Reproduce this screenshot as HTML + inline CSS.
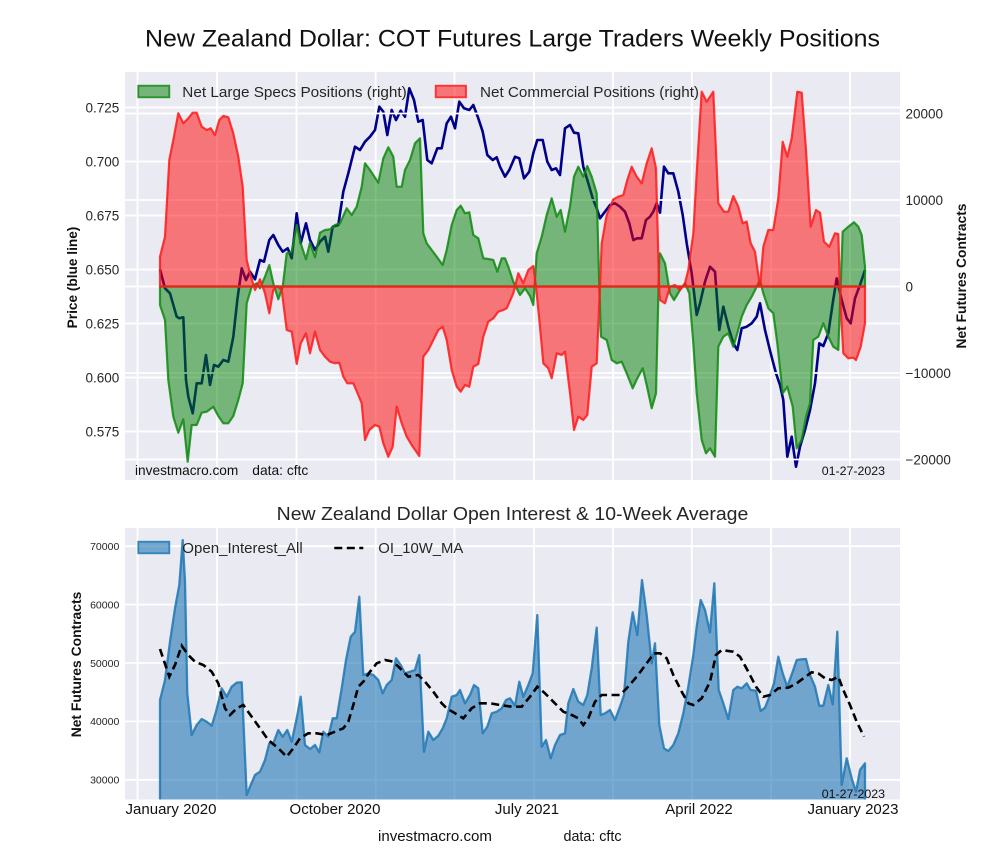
<!DOCTYPE html>
<html><head><meta charset="utf-8"><style>
html,body{margin:0;padding:0;background:#fff;}
svg{display:block;}
text{font-family:"Liberation Sans",Arial,sans-serif;}
</style></head><body>
<svg width="1000" height="860" viewBox="0 0 1000 860" xmlns="http://www.w3.org/2000/svg">
<defs>
<clipPath id="c1"><rect x="125" y="72" width="775" height="408"/></clipPath>
<clipPath id="c2"><rect x="125" y="528" width="775" height="271.5"/></clipPath>
</defs>
<rect width="1000" height="860" fill="#fff"/>

<!-- TITLE -->
<text x="512.5" y="46.5" font-size="24" fill="#111" text-anchor="middle" textLength="735" lengthAdjust="spacingAndGlyphs">New Zealand Dollar: COT Futures Large Traders Weekly Positions</text>

<!-- TOP AXES -->
<rect x="125" y="72" width="775" height="408" fill="#EAEAF2"/>
<g stroke="#fff" stroke-width="1.8">
<line x1="137.5" y1="72" x2="137.5" y2="480"/><line x1="217" y1="72" x2="217" y2="480"/><line x1="296.5" y1="72" x2="296.5" y2="480"/><line x1="375.7" y1="72" x2="375.7" y2="480"/><line x1="454.5" y1="72" x2="454.5" y2="480"/><line x1="534" y1="72" x2="534" y2="480"/><line x1="613" y1="72" x2="613" y2="480"/><line x1="691.8" y1="72" x2="691.8" y2="480"/><line x1="771" y1="72" x2="771" y2="480"/><line x1="850" y1="72" x2="850" y2="480"/>
<line x1="125" y1="107.5" x2="900" y2="107.5"/><line x1="125" y1="161.5" x2="900" y2="161.5"/><line x1="125" y1="215.5" x2="900" y2="215.5"/><line x1="125" y1="269.5" x2="900" y2="269.5"/><line x1="125" y1="323.5" x2="900" y2="323.5"/><line x1="125" y1="377.5" x2="900" y2="377.5"/><line x1="125" y1="431.5" x2="900" y2="431.5"/>
</g>
<g clip-path="url(#c1)">
<polyline fill="none" stroke="#00008B" stroke-width="2.6" stroke-linejoin="round" points="160,269.3 165,288.3 170,293.3 176.7,316.7 179.3,318.3 183.3,317.3 186,380 188.3,396.7 192.7,413.3 196.7,383.3 201.7,383.3 206,355 210,385 214,365 218.3,366.7 223.3,360 228.3,361.7 233.3,336.7 237.3,300 241.7,268.3 246,280 250,271.7 255,279.3 260,260 264,261.7 269.3,240 273.3,235 278.3,245 282.7,251.7 287.7,248.3 291.7,258.3 296.7,213.3 300.7,243.3 306,223.3 310,240 315,250 320,241.7 325,236.7 328.3,251.7 332.7,226.7 338.3,225 343.3,191.7 348.3,173.3 355,146.7 360,150 365,141.7 370,136.7 375,130 379.3,106.7 383.3,111.7 387.3,135 391.7,110 396,120 400.7,110.7 405,116.7 409.3,88.3 414,100 418.3,121.7 422.7,120 427.3,160 431.7,163.3 437.3,148.3 441.7,148.3 446.7,123.3 451,116.7 455,128.3 459.3,101.7 464,108.3 469.3,110 473.3,105 478.3,118.3 482.7,131.7 487.3,155 492.7,160 496.7,157.3 500,166.7 505,176.7 509.3,170 515,156.7 519.3,158.3 524,178.3 529.3,171.7 533.3,153.3 537.3,140 542.7,140 547.3,161.7 551.7,170 556,168.3 560,175 565,128.3 570,125 574,132.7 578.3,133.3 583.3,166.7 588.3,183.3 592.7,198.3 596.7,208.3 600,218.3 605,211.7 610,205 615,203.3 620,206.7 625,211.7 629.3,223.3 633.3,240 637.3,238.3 641.7,238.3 646,220 650,216.7 653.3,211.7 656.7,203.3 660,212.7 664,166.7 668.3,173.3 673.3,173.3 678.3,191.7 682.7,215 686.7,243.3 691.7,273.3 696.7,315 700,303.3 705,281.7 710,266.7 715,271.7 719.3,330 723.3,306.7 728.3,326.7 733.3,343.3 737.3,350 741.7,328.3 746.7,326.7 751.7,323.3 756.7,316.7 760,303.3 765,330 770.7,353.3 776,373.3 780,385 783.3,400 787.3,456.7 791.7,436.7 796,466.7 800,446.7 805,430 810,410 815,383.3 819.3,343.3 823.3,346 828.3,333.3 832.7,303.3 836.7,278.3 841.7,300 846.7,318.3 850.7,323.3 855,298.3 860,285 865,270"/>
</g>
<!-- right axis gridlines over blue line -->
<g stroke="#fff" stroke-width="1.8">
<line x1="125" y1="113.5" x2="900" y2="113.5"/><line x1="125" y1="200" x2="900" y2="200"/><line x1="125" y1="286.5" x2="900" y2="286.5"/><line x1="125" y1="373" x2="900" y2="373"/><line x1="125" y1="459.5" x2="900" y2="459.5"/>
</g>
<g clip-path="url(#c1)" stroke-linejoin="round" stroke-width="2.2">
<polygon fill="#008000" fill-opacity="0.5" stroke="#118811" stroke-opacity="0.85" points="160,305 165,320 168.3,380 173.3,416.7 178.3,432.7 183.3,419.3 187.7,461.7 191.7,425 196.7,425 201.7,412.7 206.7,411.7 213.3,406.7 218.3,416 223.3,423.3 228.3,423.3 233.3,416 238.3,400 242.7,383.3 246.7,303.3 251.7,286.7 256.7,283.3 260,288.3 265,276.7 269.3,265 273.3,283.3 278.3,299.3 282.7,286.7 286.7,253.3 291.7,251.7 296.7,225 300.7,243.3 306,259.3 310,242.7 315,257.3 320,232.7 325,230 330,229.3 335,225 340,223.3 346.7,208.3 351.7,215 356.7,206.7 361.7,186.7 365,163.3 370,170 378.3,182.7 383.3,158.3 388.3,147.3 393.3,156.7 396.7,186.7 401.7,186.7 405,170 410,160 415,143.3 420,138.3 423.3,233.3 426.7,243.3 431.7,250 436.7,256.7 442.7,265 446.7,250 451.7,225 456.7,210 460.7,205.7 465,213.3 469.3,212.3 473.3,235 478.3,238.3 483.3,258.3 488.3,259 493.3,260 497.3,271.7 501.7,258.3 505,258.3 508.3,266.7 513.3,281.7 520,295 525,288.3 530,296 533.3,305 536.7,253.3 541.7,236.7 546.7,215 551.7,198.3 556.7,216.7 560.7,210 565,231.7 570,206.7 574,176.7 578.3,166.7 583.3,176.7 587.3,166 591.7,176.7 596.7,193.3 599.3,286.7 601,336.7 606.7,340 611.7,360 616.7,363.3 621.7,361.7 626.7,373.3 632.7,388.3 637.3,378.3 642.7,368.3 646.7,385 651.7,408.3 656,393.3 659.3,256.7 660,253.3 665,263.3 670,293.3 674,300 680,290 685,283.3 689.3,293.3 693.3,343.3 696.7,393.3 701.7,440 706,453.3 710,448.3 715,456.7 718.3,346.7 723.3,336.7 728.3,333.3 733.3,346.7 737.3,333.3 741.7,316.7 746.7,305 751.7,296.7 756.7,286.7 760,280 763.3,293.3 768.3,308.3 773.3,313.3 777.3,343.3 782.7,393.3 787.3,386.7 792.7,406.7 796.7,448.3 801.7,440 806,416.7 810,403.3 813.3,340 818.3,336.7 823.3,323.3 828.3,336.7 833.3,346.7 838.3,350 840.7,286.7 842.7,231.7 848.3,226.7 854,222.3 858.3,226.7 861.7,235 865,266.7 865,286.5 160,286.5"/>
<polygon fill="#FF0000" fill-opacity="0.5" stroke="#FF1A1A" stroke-opacity="0.85" points="160,256.7 165,236.7 169.3,160 173.3,140 178.3,113.3 183.3,123.3 188.3,118.3 192.7,112.7 196.7,112.7 201.7,126.7 206.7,130 210.7,128.3 215,135 219.3,120 223.3,116 228.3,117.3 233.3,133.3 238.3,156.7 242.7,186.7 246.7,260 250,273.3 255,290 260,279.3 265,293.3 269.3,313.3 273.3,290 277.3,286 281.7,290 286.7,330 291.7,331.7 296.7,364 300.7,343.3 306,333.3 310,353.3 315,331.7 320,350 325,356.7 330,361.7 335,363.3 339.3,362.7 343.3,376.7 347.3,383.3 353.3,383.3 358.3,395 361.7,403.3 365,440 369.3,430 375,425 379.3,426.7 383.3,443.3 388.3,456.7 392.7,446.7 396.7,406.7 401.7,423.3 406.7,436.7 411.7,445 419.3,456 423.3,356.7 428.3,350 433.3,340 438.3,330 442.7,326.7 446.7,340 451.7,370 456.7,386.7 460.7,391.7 465,385 469.3,386.7 473.3,366.7 478.3,364 483.3,336.7 488.3,321.7 493.3,318.3 498.3,311.7 503.3,310 506.7,308.3 513.3,293.3 518.3,273.3 523.3,283.3 528.3,270 533.3,266 536,286.7 540,326.7 543.3,363.3 548.3,368.3 551.7,378.3 556.7,353.3 561.7,355 565,351.7 570,393.3 574,430 578.3,416.7 583.3,420 587.3,415 591.7,366.7 596.7,363.3 600,286.7 601.7,243.3 606.7,215 613.3,199.3 618.3,196.7 623.3,195 627.3,180 631.7,166.7 636.7,176.7 641.7,183.3 646.7,163.3 651.7,148.3 656,168.3 659.3,293.3 660,300 665,303.3 670,286.7 675,285 680,290 685,283.3 688.3,270 693.3,233.3 696.7,173.3 701.7,91.7 706.7,101.7 713.3,91.7 718.3,203.3 724,211.7 728.3,211.7 733.3,196 738.3,206.7 742.7,223.3 746.7,221.7 750.7,243.3 755,251.7 760,286.7 763.3,246.7 768.3,230 773.3,230 778.3,198.3 782.7,141.7 787.3,156.7 791.7,138.3 797.3,91.7 801.7,92.7 806,150 810.7,226.7 816,210 820,212.7 824,241.7 829.3,246.7 835,233.3 838.3,234 840,293.3 843.3,353.3 848.3,358.3 853.3,357.7 856,360 860.7,346.7 865,323.3 865,286.5 160,286.5"/>
</g>

<!-- top legend -->
<rect x="138.3" y="85.7" width="31" height="11.6" fill="#008000" fill-opacity="0.5" stroke="#118811" stroke-opacity="0.85" stroke-width="1.8"/>
<text x="182.3" y="97" font-size="15" fill="#262626" textLength="224.4" lengthAdjust="spacingAndGlyphs">Net Large Specs Positions (right)</text>
<rect x="435.7" y="85.7" width="30.3" height="11.6" fill="#FF0000" fill-opacity="0.5" stroke="#FF1A1A" stroke-opacity="0.85" stroke-width="1.8"/>
<text x="480" y="97" font-size="15" fill="#262626" textLength="219" lengthAdjust="spacingAndGlyphs">Net Commercial Positions (right)</text>

<!-- top watermark -->
<text x="135" y="475" font-size="13.7" fill="#111" textLength="103.3" lengthAdjust="spacingAndGlyphs">investmacro.com</text>
<text x="252.3" y="475" font-size="13.7" fill="#111" textLength="56" lengthAdjust="spacingAndGlyphs">data: cftc</text>
<text x="821.7" y="475" font-size="12.4" fill="#111" textLength="63.3" lengthAdjust="spacingAndGlyphs">01-27-2023</text>

<!-- top tick labels -->
<g font-size="13.5" fill="#262626" text-anchor="end">
<text x="119.3" y="112.3">0.725</text><text x="119.3" y="166.3">0.700</text><text x="119.3" y="220.3">0.675</text><text x="119.3" y="274.3">0.650</text><text x="119.3" y="328.3">0.625</text><text x="119.3" y="382.3">0.600</text><text x="119.3" y="436.3">0.575</text>
</g>
<g font-size="13.5" fill="#262626">
<text x="905.5" y="118.3">20000</text><text x="905.5" y="204.8">10000</text><text x="905.5" y="291.3">0</text><text x="905.5" y="377.8">−10000</text><text x="905.5" y="464.3">−20000</text>
</g>
<text transform="translate(77,277.5) rotate(-90)" font-size="13.5" font-weight="bold" fill="#111" text-anchor="middle" textLength="101.7" lengthAdjust="spacingAndGlyphs">Price (blue line)</text>
<text transform="translate(966,276) rotate(-90)" font-size="13.7" font-weight="bold" fill="#111" text-anchor="middle" textLength="145" lengthAdjust="spacingAndGlyphs">Net Futures Contracts</text>

<!-- BOTTOM -->
<text x="512.5" y="520" font-size="18.6" fill="#262626" text-anchor="middle" textLength="471.6" lengthAdjust="spacingAndGlyphs">New Zealand Dollar Open Interest &amp; 10-Week Average</text>
<rect x="125" y="528" width="775" height="271.5" fill="#EAEAF2"/>
<g stroke="#fff" stroke-width="1.8">
<line x1="137.5" y1="528" x2="137.5" y2="799.5"/><line x1="217" y1="528" x2="217" y2="799.5"/><line x1="296.5" y1="528" x2="296.5" y2="799.5"/><line x1="375.7" y1="528" x2="375.7" y2="799.5"/><line x1="454.5" y1="528" x2="454.5" y2="799.5"/><line x1="534" y1="528" x2="534" y2="799.5"/><line x1="613" y1="528" x2="613" y2="799.5"/><line x1="691.8" y1="528" x2="691.8" y2="799.5"/><line x1="771" y1="528" x2="771" y2="799.5"/><line x1="850" y1="528" x2="850" y2="799.5"/>
<line x1="125" y1="546.2" x2="900" y2="546.2"/><line x1="125" y1="604.6" x2="900" y2="604.6"/><line x1="125" y1="663" x2="900" y2="663"/><line x1="125" y1="721.4" x2="900" y2="721.4"/><line x1="125" y1="779.8" x2="900" y2="779.8"/>
</g>
<g clip-path="url(#c2)">
<polygon fill="#1f77b4" fill-opacity="0.6" stroke="#1f77b4" stroke-opacity="0.85" stroke-width="2.3" stroke-linejoin="round" points="160,700 165,680 170,641.7 175,608.3 179.3,585 182.7,540 185,581.7 187.3,693.3 191.7,735 196.7,725 201.7,719 206.7,721.7 211.7,725.7 216,711.7 221.7,688.3 226.7,696.7 231.7,686.7 236.7,682.7 241.7,682.3 246.7,795 250.7,785 255,775 260,771.7 265,760 269.3,743.3 273.3,743.3 278.3,730 282.7,736.7 287.3,730 291.7,741.7 296.7,718.3 300.7,696.7 305,745 310,749 315,745 319.3,752.3 323.3,731.7 328.3,736.7 332.7,718.3 336.7,718.3 341.7,688.3 346,660 350.7,636.7 355,631.7 359.3,596.7 363.3,675 368.3,673.3 373.3,675 378.3,680 382.7,693.3 386.7,685 391.7,680 396,658.3 400.7,665 405,673.3 410,671.7 415,670 419.3,655 424,751.7 428.3,731.7 433.3,740 438.3,735.7 442.7,728.3 446.7,718.3 451.7,696.7 456.7,695 460,690 465,703.3 470,695 474,685 478.3,688.3 482.7,733.3 487.3,726.7 491.7,713.3 496.7,711.7 501.7,708.3 506,700 510,698.3 515,705.7 519.3,681.7 523.3,696.7 528.3,685 532.7,673.3 537.3,615 541.7,746.7 546,740 550.7,758.3 555,745 560,735 565,733.3 568.3,703.3 573.3,689 578.3,701.7 583.3,705 587.3,695 591.7,668.3 596.7,627.7 600.7,715 605,713.3 610,710 615,720 620,706.7 624,695 628.3,641.7 632.7,612.3 637.3,635 642,580 646.7,615 651.7,663.3 655,643.3 659.3,725 664,748.3 668.3,751 673.3,745 678.3,733.3 683.3,713.3 688.3,686.7 693.3,655 696.7,626.7 700.7,600 705,610 710,632.3 714.3,583.3 718.7,690 723.3,703.3 728.3,719 733.3,690 737.3,686.7 741.7,688.3 746.7,683.3 750.7,690 756,690.7 760.7,711 765,707.7 769.3,696.7 774,683.3 778.3,656.7 782.7,673.3 787.3,686.7 792.7,671.7 796.7,660 801.7,659.3 806,659 810,675 815,686.7 819.3,705.7 823.3,705.7 828.3,685 832.7,704.3 837.3,631.7 841.7,785 846.7,758.3 851.7,778.3 856,791.7 860,770 865,763.3 865,830 160,830"/>
<polyline fill="none" stroke="#000" stroke-width="2.6" stroke-dasharray="8 4.5" points="160,649 169.3,676.7 175,665 181.7,645.7 188.3,655 195,661.7 203.3,665 211.7,671.7 218.3,683.3 225,708.3 230,715 236.7,708.3 243.3,705 251.7,716.7 260,728.3 268.3,740 278.3,748.3 286.7,756.7 293.3,748.3 300,738.3 308.3,733.3 316.7,733.3 326.7,735 335,731.7 343.3,728.3 348.3,721.7 353.3,705 358.3,686.7 363.3,681.7 370,671.7 376.7,663.3 385,660 393.3,661.7 400,668.3 408.3,676.7 418.3,675 425,681.7 433.3,691.7 441.7,703.3 446.7,708.3 455,713.3 463.3,718.3 471.7,708.3 480,703.3 490,703.3 500,705 511.7,706.7 521.7,706.7 530,696.7 537.3,686.7 545,693.3 553.3,701.7 563.3,711.7 571.7,715 578.3,718.3 583.3,725 588.3,718.3 595,701.7 601.7,695 611.7,695 620,695 626.7,688.3 636.7,676.7 646.7,663.3 654,653.3 660,653.3 666.7,658.3 673.3,675 681.7,691.7 688.3,703.3 693.3,705 701.7,698.3 710,681.7 716,655 721.7,650 733.3,651.7 740,656.7 748.3,671.7 756,686.7 763.3,696.7 770,695 778.3,688.3 788.3,687.7 796.7,683.3 803.3,678.3 811.7,672.3 818.3,673.3 825,678.3 831.7,680 838.3,676.7 843.3,690 850,705 856.7,721.7 864,736.7"/>
</g>
<!-- bottom legend -->
<rect x="138.3" y="541.7" width="31" height="11.6" fill="#1f77b4" fill-opacity="0.6" stroke="#1f77b4" stroke-opacity="0.85" stroke-width="1.8"/>
<text x="182.3" y="553" font-size="15" fill="#262626" textLength="120.4" lengthAdjust="spacingAndGlyphs">Open_Interest_All</text>
<line x1="334.3" y1="548" x2="363.3" y2="548" stroke="#000" stroke-width="2.6" stroke-dasharray="8 4.5"/>
<text x="378.3" y="553" font-size="15" fill="#262626" textLength="85" lengthAdjust="spacingAndGlyphs">OI_10W_MA</text>
<text x="821.7" y="798" font-size="12.4" fill="#111" textLength="63.3" lengthAdjust="spacingAndGlyphs">01-27-2023</text>

<g font-size="10.5" fill="#262626" text-anchor="end">
<text x="119.3" y="550">70000</text><text x="119.3" y="608.4">60000</text><text x="119.3" y="666.8">50000</text><text x="119.3" y="725.2">40000</text><text x="119.3" y="783.6">30000</text>
</g>
<text transform="translate(81,664.5) rotate(-90)" font-size="13.7" font-weight="bold" fill="#111" text-anchor="middle" textLength="145.6" lengthAdjust="spacingAndGlyphs">Net Futures Contracts</text>

<g font-size="15" fill="#111" text-anchor="middle">
<text x="171" y="814">January 2020</text>
<text x="335" y="814">October 2020</text>
<text x="527" y="814">July 2021</text>
<text x="699" y="814">April 2022</text>
<text x="853" y="814">January 2023</text>
</g>
<text x="378" y="841" font-size="14.8" fill="#111" textLength="114" lengthAdjust="spacingAndGlyphs">investmacro.com</text>
<text x="563.5" y="841" font-size="14.8" fill="#111" textLength="58" lengthAdjust="spacingAndGlyphs">data: cftc</text>
</svg>
</body></html>
